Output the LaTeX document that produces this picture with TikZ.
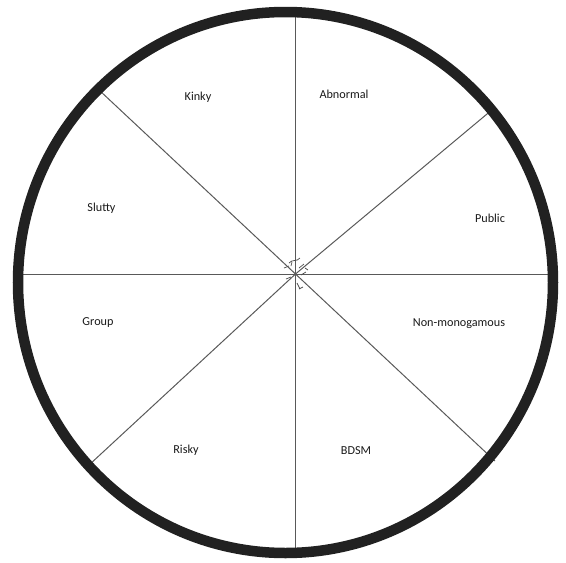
\documentclass[tikz,border=0pt]{standalone}
\usepackage{fontspec}
\setmainfont{Carlito}
\begin{document}
\begin{tikzpicture}[x=1pt,y=-1pt,
  spoke/.style={draw=black!65,line width=1pt},
  ring/.style={draw=black!87,line width=10.5pt},
  lbl/.style={font=\fontsize{12.2}{14}\selectfont,text=black!90,inner sep=0pt}]
\useasboundingbox (0,0) rectangle (566,563);
\coordinate (c) at (295.5,274);
\coordinate (t) at (295.5,14);
\coordinate (b) at (295.5,552);
\coordinate (l) at (16,274);
\coordinate (r) at (555,274);
\coordinate (ul) at (99,90);
\coordinate (ur) at (493,109);
\coordinate (ll) at (89,465);
\coordinate (lr) at (495,461);
\foreach \p in {t,b,l,r,ul,ur,ll,lr} \draw[spoke] (c) -- (\p);
\draw[ring] (285.5,282.5) ellipse [x radius=267.5, y radius=270.5];
% small marks at centre
\draw[black!70,line width=0.7pt] (289,263) .. controls (292,259) and (297,262) .. (300,258)
  (284,268) -- (289,266) (299,268) -- (304,264) (301,275) -- (306,272)
  (286,279) -- (291,277) (297,283) -- (300,289) (299,289) -- (303,287)
  (292,262) -- (291,266) (305,268) -- (308,270);
\node[lbl] (kinky) at (198,97) {Kinky};
\node[lbl] (abn) at (344,94) {Abnormal};
\node[lbl] (pub) at (490,218) {Public};
\node[lbl] (slut) at (101.5,208) {Slutty};
\node[lbl] (grp) at (98,323) {Group};
\node[lbl] (nonm) at (459,324) {Non-monogamous};
\node[lbl] (risk) at (186,450) {Risky};
\node[lbl] (bdsm) at (356,451) {BDSM};
\end{tikzpicture}
\end{document}
